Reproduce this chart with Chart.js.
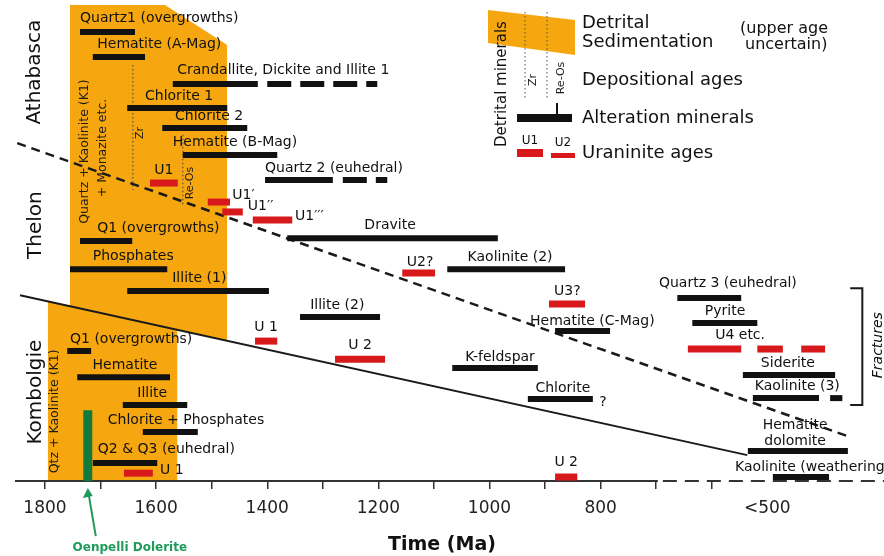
<!DOCTYPE html>
<html>
<head>
<meta charset="utf-8">
<script src="https://cdn.jsdelivr.net/npm/chart.js@4.4.0/dist/chart.umd.min.js"></script>
<style>
  html, body { margin: 0; padding: 0; background: #fff; }
  #wrap { width: 884px; height: 556px; position: relative; }
</style>
</head>
<body>
<div id="wrap"><canvas id="paragenesis"></canvas></div>
<script>
const FONT = '"DejaVu Sans", Verdana, sans-serif';
const ORANGE = '#f6a70f';
const BLACK = '#111111';
const RED = '#d7191c';
const GREEN = '#117a3c';
const INK = '#111111';

// x = age in Ma, y = lane (0 at top, 20 on the time axis)
const tickAges = [1800, 1700, 1600, 1500, 1400, 1300, 1200, 1100, 1000, 900, 800, 700, 600, 500];
const tickText = ['1800', '', '1600', '', '1400', '', '1200', '', '1000', '', '800', '', '', '<500'];

// alteration minerals [fromMa, toMa, lane]
const alteration = [
  [1737, 1638, 1.33], [1714, 1620, 2.37], [1570, 1417, 3.49], [1652, 1472, 4.49],
  [1589, 1436, 5.32], [1552, 1382, 6.44], [1404, 1282, 7.48],
  [1737, 1643, 10.02], [1755, 1580, 11.19], [1652, 1397, 12.10], [1364, 985, 9.90],
  [1076, 864, 11.19], [1341, 1197, 13.18], [882, 783, 13.76], [1067, 913, 15.30],
  [931, 814, 16.59], [662, 547, 12.39], [635, 518, 13.43], [544, 378, 15.59],
  [526, 407, 16.55], [387, 365, 16.55], [535, 355, 18.75], [490, 389, 19.83],
  [1760, 1717, 14.59], [1742, 1575, 15.68], [1660, 1544, 16.84], [1624, 1525, 17.96],
  [1714, 1598, 19.25]
];
// uncertain (dashed) continuations
const alterationUncertain = [[1400, 1202, 3.49], [1264, 1184, 7.48]];

// uraninite ages [fromMa, toMa, lane]
const uraninite = [
  [1611, 1561, 7.61], [1507, 1467, 8.40], [1481, 1444, 8.81], [1426, 1355, 9.15],
  [1157, 1098, 11.35], [893, 828, 12.64], [1422, 1382, 14.18], [1278, 1188, 14.93],
  [643, 547, 14.51], [518, 472, 14.51], [439, 396, 14.51],
  [1658, 1606, 19.67], [882, 842, 19.83]
];

// detrital sedimentation outline (upper and lower edge)
const sedimentTop = [[1795, 12.52], [1755, 12.73], [1755, 0.21], [1584, 0.21], [1472, 1.87]];
const sedimentBase = [[1795, 20], [1562, 20], [1562, 13.71], [1472, 14.16]];

// depositional ages [age, fromLane, toLane]
const depositional = [[1642, 2.7, 7.9], [1552, 5.6, 8.5]];

const unconformityDashed = [[1850, 5.95], [351, 18.17]];
const unconformitySolid = [[1845, 12.27], [536, 18.92]];
const axisSolid = [[1854, 20], [697, 20]];
const axisDashed = [[688, 20], [290, 20]];
const dolerite = [[1723, 17.05], [1723, 20]];
const fracturesBracket = [[349, 11.98], [329, 11.98], [329, 16.84], [349, 16.84]];

// [text, age, lane, align]
const barLabels = [
  ['Quartz1 (overgrowths)', 1737, 0.75, 'left'], ['Hematite (A-Mag)', 1706, 1.83, 'left'],
  ['Crandallite, Dickite and Illite 1', 1562, 2.91, 'left'], ['Chlorite 1', 1620, 3.99, 'left'],
  ['Chlorite 2', 1566, 4.82, 'left'], ['Hematite (B-Mag)', 1570, 5.90, 'left'],
  ['Quartz 2 (euhedral)', 1404, 6.99, 'left'],
  ['Q1 (overgrowths)', 1706, 9.48, 'left'], ['Phosphates', 1714, 10.64, 'left'],
  ['Illite (1)', 1571, 11.56, 'left'], ['Dravite', 1179, 9.36, 'center'],
  ['Kaolinite (2)', 963, 10.69, 'center'], ['Illite (2)', 1274, 12.68, 'center'],
  ['Hematite (C-Mag)', 927, 13.35, 'left'], ['K-feldspar', 981, 14.84, 'center'],
  ['Chlorite', 868, 16.13, 'center'], ['?', 796, 16.72, 'center'],
  ['Quartz 3 (euhedral)', 571, 11.77, 'center'], ['Pyrite', 576, 12.93, 'center'],
  ['Siderite', 463, 15.09, 'center'], ['Kaolinite (3)', 446, 16.05, 'center'],
  ['Hematite', 450, 17.67, 'center'], ['dolomite', 450, 18.34, 'center'],
  ['Kaolinite (weathering)', 558, 19.42, 'left'],
  ['Q1 (overgrowths)', 1755, 14.10, 'left'], ['Hematite', 1656, 15.18, 'center'],
  ['Illite', 1607, 16.34, 'center'], ['Chlorite + Phosphates', 1687, 17.46, 'left'],
  ['Q2 & Q3 (euhedral)', 1705, 18.67, 'left'],
  ['U1', 1586, 7.07, 'center'], ['U1\u2032', 1463, 8.11, 'left'], ['U1\u2032\u2032', 1435, 8.57, 'left'],
  ['U1\u2032\u2032\u2032', 1350, 8.98, 'left'], ['U2?', 1125, 10.89, 'center'],
  ['U3?', 860, 12.10, 'center'], ['U 1', 1402, 13.60, 'center'], ['U 2', 1233, 14.35, 'center'],
  ['U4 etc.', 549, 13.93, 'center'], ['U 1', 1593, 19.54, 'left'], ['U 2', 862, 19.21, 'center']
];

const basinNames = [['Athabasca', 1818, 3.0], ['Thelon', 1817, 9.36], ['Kombolgie', 1817, 16.3]];
const detritalNotes = [['Quartz + Kaolinite (K1)', 1728, 6.3], ['+ Monazite etc.', 1696, 6.15], ['Qtz + Kaolinite (K1)', 1782, 17.1]];
const depositionalNames = [['Zr', 1629, 5.53], ['Re-Os', 1539, 7.61]];

function seg(points, color, width, extra) {
  return Object.assign({
    data: points.map(p => ({ x: p[0], y: p[1] })),
    borderColor: color, borderWidth: width, borderCapStyle: 'butt',
    pointRadius: 0, fill: false, tension: 0, clip: false, order: 0
  }, extra || {});
}

const datasets = [];
datasets.push(seg(sedimentTop, 'rgba(0,0,0,0)', 0, { fill: '+1', backgroundColor: ORANGE, order: 30 }));
datasets.push(seg(sedimentBase, 'rgba(0,0,0,0)', 0, { order: 30 }));
depositional.forEach(d => datasets.push(seg([[d[0], d[1]], [d[0], d[2]]], 'rgba(80,80,80,0.8)', 1.5, { borderDash: [1.5, 2.5], order: 20 })));
datasets.push(seg(unconformityDashed, '#1a1a1a', 2.5, { borderDash: [9, 6], order: 10 }));
datasets.push(seg(unconformitySolid, '#1a1a1a', 2, { order: 10 }));
datasets.push(seg(axisSolid, '#333', 2, { order: 10 }));
datasets.push(seg(axisDashed, '#333', 2, { borderDash: [14, 8], order: 10 }));
datasets.push(seg(fracturesBracket, '#1a1a1a', 2, { borderCapStyle: 'square', order: 5 }));
alteration.forEach(b => datasets.push(seg([[b[0], b[2]], [b[1], b[2]]], BLACK, 6, { order: 1 })));
alterationUncertain.forEach(b => datasets.push(seg([[b[0], b[2]], [b[1], b[2]]], BLACK, 6, { borderDash: [24, 9], order: 1 })));
uraninite.forEach(b => datasets.push(seg([[b[0], b[2]], [b[1], b[2]]], RED, 7, { order: 0 })));
datasets.push(seg(dolerite, GREEN, 9, { order: 0 }));

function vtext(ctx, t, px, py, font, color) {
  ctx.save();
  ctx.translate(px, py);
  ctx.rotate(-Math.PI / 2);
  ctx.font = font;
  ctx.fillStyle = color;
  ctx.textAlign = 'center';
  ctx.textBaseline = 'middle';
  ctx.fillText(t, 0, 0);
  ctx.restore();
}

const annotate = {
  id: 'annotate',
  afterDatasetsDraw(chart) {
    const { ctx, chartArea } = chart;
    const x = chart.scales.x, y = chart.scales.y;
    ctx.save();
    ctx.textBaseline = 'middle';
    ctx.fillStyle = INK;
    ctx.font = '14px ' + FONT;
    barLabels.forEach(([t, a, l, align]) => {
      ctx.textAlign = align;
      ctx.fillText(t, x.getPixelForValue(a), y.getPixelForValue(l));
    });
    basinNames.forEach(([t, a, l]) => vtext(ctx, t, x.getPixelForValue(a), y.getPixelForValue(l), '20px ' + FONT, INK));
    detritalNotes.forEach(([t, a, l]) => vtext(ctx, t, x.getPixelForValue(a), y.getPixelForValue(l), '12.5px ' + FONT, '#1a1a1a'));
    depositionalNames.forEach(([t, a, l]) => vtext(ctx, t, x.getPixelForValue(a), y.getPixelForValue(l), '11px ' + FONT, '#1a1a1a'));
    vtext(ctx, 'Fractures', x.getPixelForValue(301), y.getPixelForValue(14.35), 'italic 14px ' + FONT, INK);

    // Oenpelli Dolerite arrow + label
    const gx = x.getPixelForValue(dolerite[0][0]);
    const by = chartArea.bottom;
    ctx.strokeStyle = '#1f9a5a';
    ctx.fillStyle = '#1f9a5a';
    ctx.lineWidth = 2;
    ctx.beginPath();
    ctx.moveTo(gx + 8, by + 55);
    ctx.lineTo(gx + 1, by + 14);
    ctx.stroke();
    ctx.beginPath();
    ctx.moveTo(gx, by + 7);
    ctx.lineTo(gx - 5, by + 17);
    ctx.lineTo(gx + 5, by + 15);
    ctx.closePath();
    ctx.fill();
    ctx.font = 'bold 12px ' + FONT;
    ctx.textAlign = 'center';
    ctx.fillText('Oenpelli Dolerite', gx + 42, by + 67);

    // legend
    ctx.fillStyle = ORANGE;
    ctx.beginPath();
    ctx.moveTo(488, 10); ctx.lineTo(575, 20); ctx.lineTo(575, 55); ctx.lineTo(488, 43);
    ctx.closePath();
    ctx.fill();
    ctx.strokeStyle = 'rgba(80,80,80,0.8)';
    ctx.lineWidth = 1.2;
    ctx.setLineDash([1.5, 2.5]);
    [525, 547].forEach(px => { ctx.beginPath(); ctx.moveTo(px, 12); ctx.lineTo(px, 100); ctx.stroke(); });
    ctx.setLineDash([]);
    vtext(ctx, 'Detrital minerals', 502, 84, '15px ' + FONT, INK);
    vtext(ctx, 'Zr', 533, 80, '11px ' + FONT, '#1a1a1a');
    vtext(ctx, 'Re-Os', 561, 78, '11px ' + FONT, '#1a1a1a');
    ctx.fillStyle = BLACK;
    ctx.fillRect(556, 103, 2, 16);
    ctx.fillRect(517, 114, 55, 8);
    ctx.fillStyle = RED;
    ctx.fillRect(517, 149, 26, 8);
    ctx.fillRect(551, 153, 24, 5);
    ctx.fillStyle = INK;
    ctx.font = '12px ' + FONT;
    ctx.textAlign = 'center';
    ctx.fillText('U1', 530, 141);
    ctx.fillText('U2', 563, 143);
    ctx.textAlign = 'left';
    ctx.font = '18px ' + FONT;
    ctx.fillText('Detrital', 582, 23);
    ctx.fillText('Sedimentation', 582, 42);
    ctx.fillText('Depositional ages', 582, 80);
    ctx.fillText('Alteration minerals', 582, 118);
    ctx.fillText('Uraninite ages', 582, 153);
    ctx.font = '16px ' + FONT;
    ctx.fillText('(upper age', 740, 29);
    ctx.fillText('uncertain)', 745, 45);
    ctx.restore();
  }
};

new Chart(document.getElementById('paragenesis'), {
  type: 'line',
  data: { datasets },
  options: {
    responsive: true,
    maintainAspectRatio: false,
    animation: false,
    events: [],
    layout: { padding: 0 },
    plugins: { legend: { display: false }, tooltip: { enabled: false } },
    scales: {
      x: {
        type: 'linear', reverse: true, min: 290, max: 1881,
        afterBuildTicks: s => { s.ticks = tickAges.map(v => ({ value: v })); },
        ticks: {
          autoSkip: false, maxRotation: 0, padding: 9, color: '#222',
          font: { family: FONT, size: 17 },
          callback: v => tickText[tickAges.indexOf(v)] || ''
        },
        grid: {
          drawOnChartArea: false, tickLength: 8, lineWidth: 1.5,
          color: c => (c.tick && c.tick.value === 500) ? 'rgba(0,0,0,0)' : '#333'
        },
        border: { display: false },
        title: {
          display: true, text: 'Time (Ma)', color: '#111',
          font: { family: FONT, size: 19, weight: 'bold', lineHeight: 1 },
          padding: { top: 8, bottom: 1.5 }
        }
      },
      y: { type: 'linear', display: false, reverse: true, min: 0, max: 20 }
    }
  },
  plugins: [annotate]
});
</script>
</body>
</html>
